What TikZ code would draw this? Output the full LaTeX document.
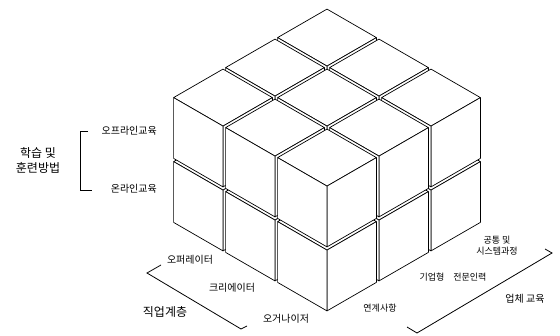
\documentclass[tikz,border=0pt]{standalone}
\usepackage{fontspec}
\setmainfont{Noto Sans CJK KR}
\newcommand\gp{0.025}
\newcommand\hp{0.975}
% one small cube of the block, cell (a,b,c)
\newcommand\cubelet[3]{%
  \begin{scope}[shift={(#1,#2,#3)}]
  \draw[cubeface] (\gp,\gp,\hp) -- (\hp,\gp,\hp) -- (\hp,\hp,\hp) -- (\gp,\hp,\hp) -- cycle;
  \draw[cubeface] (\hp,\gp,\gp) -- (\hp,\hp,\gp) -- (\hp,\hp,\hp) -- (\hp,\gp,\hp) -- cycle;
  \draw[cubeface] (\gp,\hp,\gp) -- (\hp,\hp,\gp) -- (\hp,\hp,\hp) -- (\gp,\hp,\hp) -- cycle;
  \end{scope}}
\begin{document}
\begin{tikzpicture}[x=1pt,y=1pt,
  cubeface/.style={fill=white,draw=black,line width=0.7pt,line join=round},
  bracket/.style={draw=black,line width=0.8pt},
  axislabel/.style={font=\fontsize{12}{15}\selectfont,inner sep=1pt},
  itemlabel/.style={font=\fontsize{10}{12}\selectfont,inner sep=1pt},
  smalllabel/.style={font=\fontsize{9}{11}\selectfont,inner sep=1pt,align=center}]
\useasboundingbox (0,0) rectangle (560,-336);
% 3 x 3 x 2 block, painted back to front
\begin{scope}[shift={(327,-134)},x={(52pt,-30pt)},y={(-52pt,-30pt)},z={(0pt,64pt)}]
\foreach \s in {0,...,5}{
  \foreach \i in {0,1,2}{\foreach \j in {0,1,2}{\foreach \k in {0,1}{
    \pgfmathtruncatemacro\t{\i+\j+\k}
    \ifnum\t=\s \cubelet{\i}{\j}{\k}\fi}}}}
\end{scope}
% learning / training method
\node[axislabel,align=center] (method) at (38,-160) {학습 및\\훈련방법};
\node[itemlabel,anchor=east] (offline) at (158,-131) {오프라인교육};
\node[itemlabel,anchor=east] (online) at (158,-189) {온라인교육};
\coordinate (mtop) at (80,-131); \coordinate (mbot) at (80,-190);
\draw[bracket] ([xshift=8pt]mtop) -- (mtop) -- (mbot) -- ([xshift=12pt]mbot);
% job levels
\coordinate (jl1) at (161,-265); \coordinate (jl2) at (147,-273);
\coordinate (jl3) at (241,-329); \coordinate (jl4) at (247,-326);
\draw[bracket] (jl1) -- (jl2) -- (jl3) -- (jl4);
\node[itemlabel] (oper) at (190,-260) {오퍼레이터};
\node[itemlabel] (creat) at (232,-288) {크리에이터};
\node[itemlabel] (organ) at (286,-319) {오거나이저};
\node[axislabel] (job) at (165,-312) {직업계층};
% course types
\coordinate (ct1) at (407,-327); \coordinate (ct2) at (417,-333);
\coordinate (ct3) at (552,-253); \coordinate (ct4) at (545,-249);
\draw[bracket] (ct1) -- (ct2) -- (ct3) -- (ct4);
\node[smalllabel] (link) at (380,-308) {연계사항};
\node[smalllabel] (expert) at (453,-277) {기업형\quad 전문인력};
\node[smalllabel] (common) at (497,-246) {공통 및\\시스템과정};
\node[itemlabel] (course) at (525,-299) {업체 교육};
\end{tikzpicture}
\end{document}
